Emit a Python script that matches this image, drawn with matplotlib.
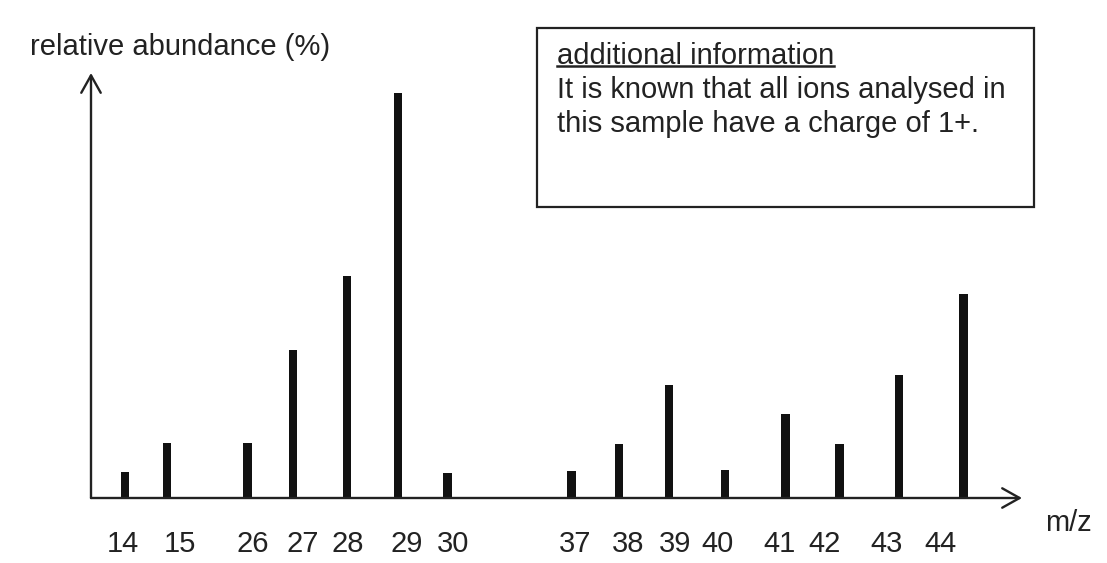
import matplotlib
matplotlib.use('Agg')
import matplotlib.pyplot as plt
from matplotlib.patches import Rectangle
import numpy as np

plt.rcParams['font.family'] = ['Liberation Sans', 'DejaVu Sans']

# mass spectrum peaks (tallest = 100)
mz = ['14', '15', '26', '27', '28', '29', '30',
      '37', '38', '39', '40', '41', '42', '43', '44']
abundance = [6.4, 13.6, 13.6, 36.5, 54.8, 100, 6.2,
             6.7, 13.3, 27.9, 6.9, 20.7, 13.3, 30.4, 50.4]

# peaks are not drawn to scale along the axis, so keep the positions
bar_pos = [3.65, 8.16, 16.8, 21.7, 27.5, 33.0, 38.3,
           51.6, 56.7, 62.1, 68.1, 74.6, 80.4, 86.8, 93.7]
label_pos = [3.44, 9.56, 17.4, 22.7, 27.6, 33.9, 38.9,
             52.0, 57.7, 62.7, 67.3, 74.0, 78.8, 85.5, 91.2]

FS = 21
INK = '#222222'

fig = plt.figure(figsize=(11.07, 5.63), dpi=100)
ax = fig.add_axes([91/1107, 65/563, 931/1107, 425/563])
ax.set_xlim(0, 100)
ax.set_ylim(0, 104.9)

ax.bar(bar_pos, abundance, width=0.9, color='#111111', zorder=3)

for s in ax.spines.values():
    s.set_visible(False)
ax.set_yticks([])
ax.set_xticks(label_pos)
ax.set_xticklabels(mz, fontsize=FS, color=INK)
ax.tick_params(axis='x', length=0, pad=23)

# axes drawn as arrows
arrow = dict(arrowstyle='->,head_length=0.5,head_width=0.28', lw=1.7,
             color=INK, mutation_scale=25, shrinkA=0, shrinkB=0)
ax.annotate('', xy=(0, 1), xytext=(0, 0), xycoords='axes fraction',
            arrowprops=arrow, annotation_clip=False)
ax.annotate('', xy=(1, 0), xytext=(0, 0), xycoords='axes fraction',
            arrowprops=arrow, annotation_clip=False)

W, H = 1107, 563
fig.text(30/W, 1 - 47/H, 'relative abundance (%)', fontsize=FS,
         color=INK, va='center', ha='left')
fig.text(1068/W, 1 - 523/H, 'm/z', fontsize=FS, color=INK,
         va='center', ha='center')

# info box
fig.patches.append(Rectangle((537/W, 1 - 207/H), (1034 - 537)/W, (207 - 28)/H,
                             transform=fig.transFigure, fill=False,
                             lw=1.6, edgecolor=INK))
t1 = fig.text(557/W, 1 - 56/H, 'additional information', fontsize=FS,
              color=INK, va='center', ha='left')
fig.text(557/W, 1 - 90/H, 'It is known that all ions analysed in', fontsize=FS,
         color=INK, va='center', ha='left')
fig.text(557/W, 1 - 124/H, 'this sample have a charge of 1+.', fontsize=FS,
         color=INK, va='center', ha='left')

# underline the heading
fig.canvas.draw()
bb = t1.get_window_extent().transformed(fig.transFigure.inverted())
fig.add_artist(plt.Line2D([bb.x0, bb.x1], [bb.y0 + 0.007, bb.y0 + 0.007],
                          transform=fig.transFigure, color=INK, lw=1.8))

fig.savefig('out.png', dpi=100)
